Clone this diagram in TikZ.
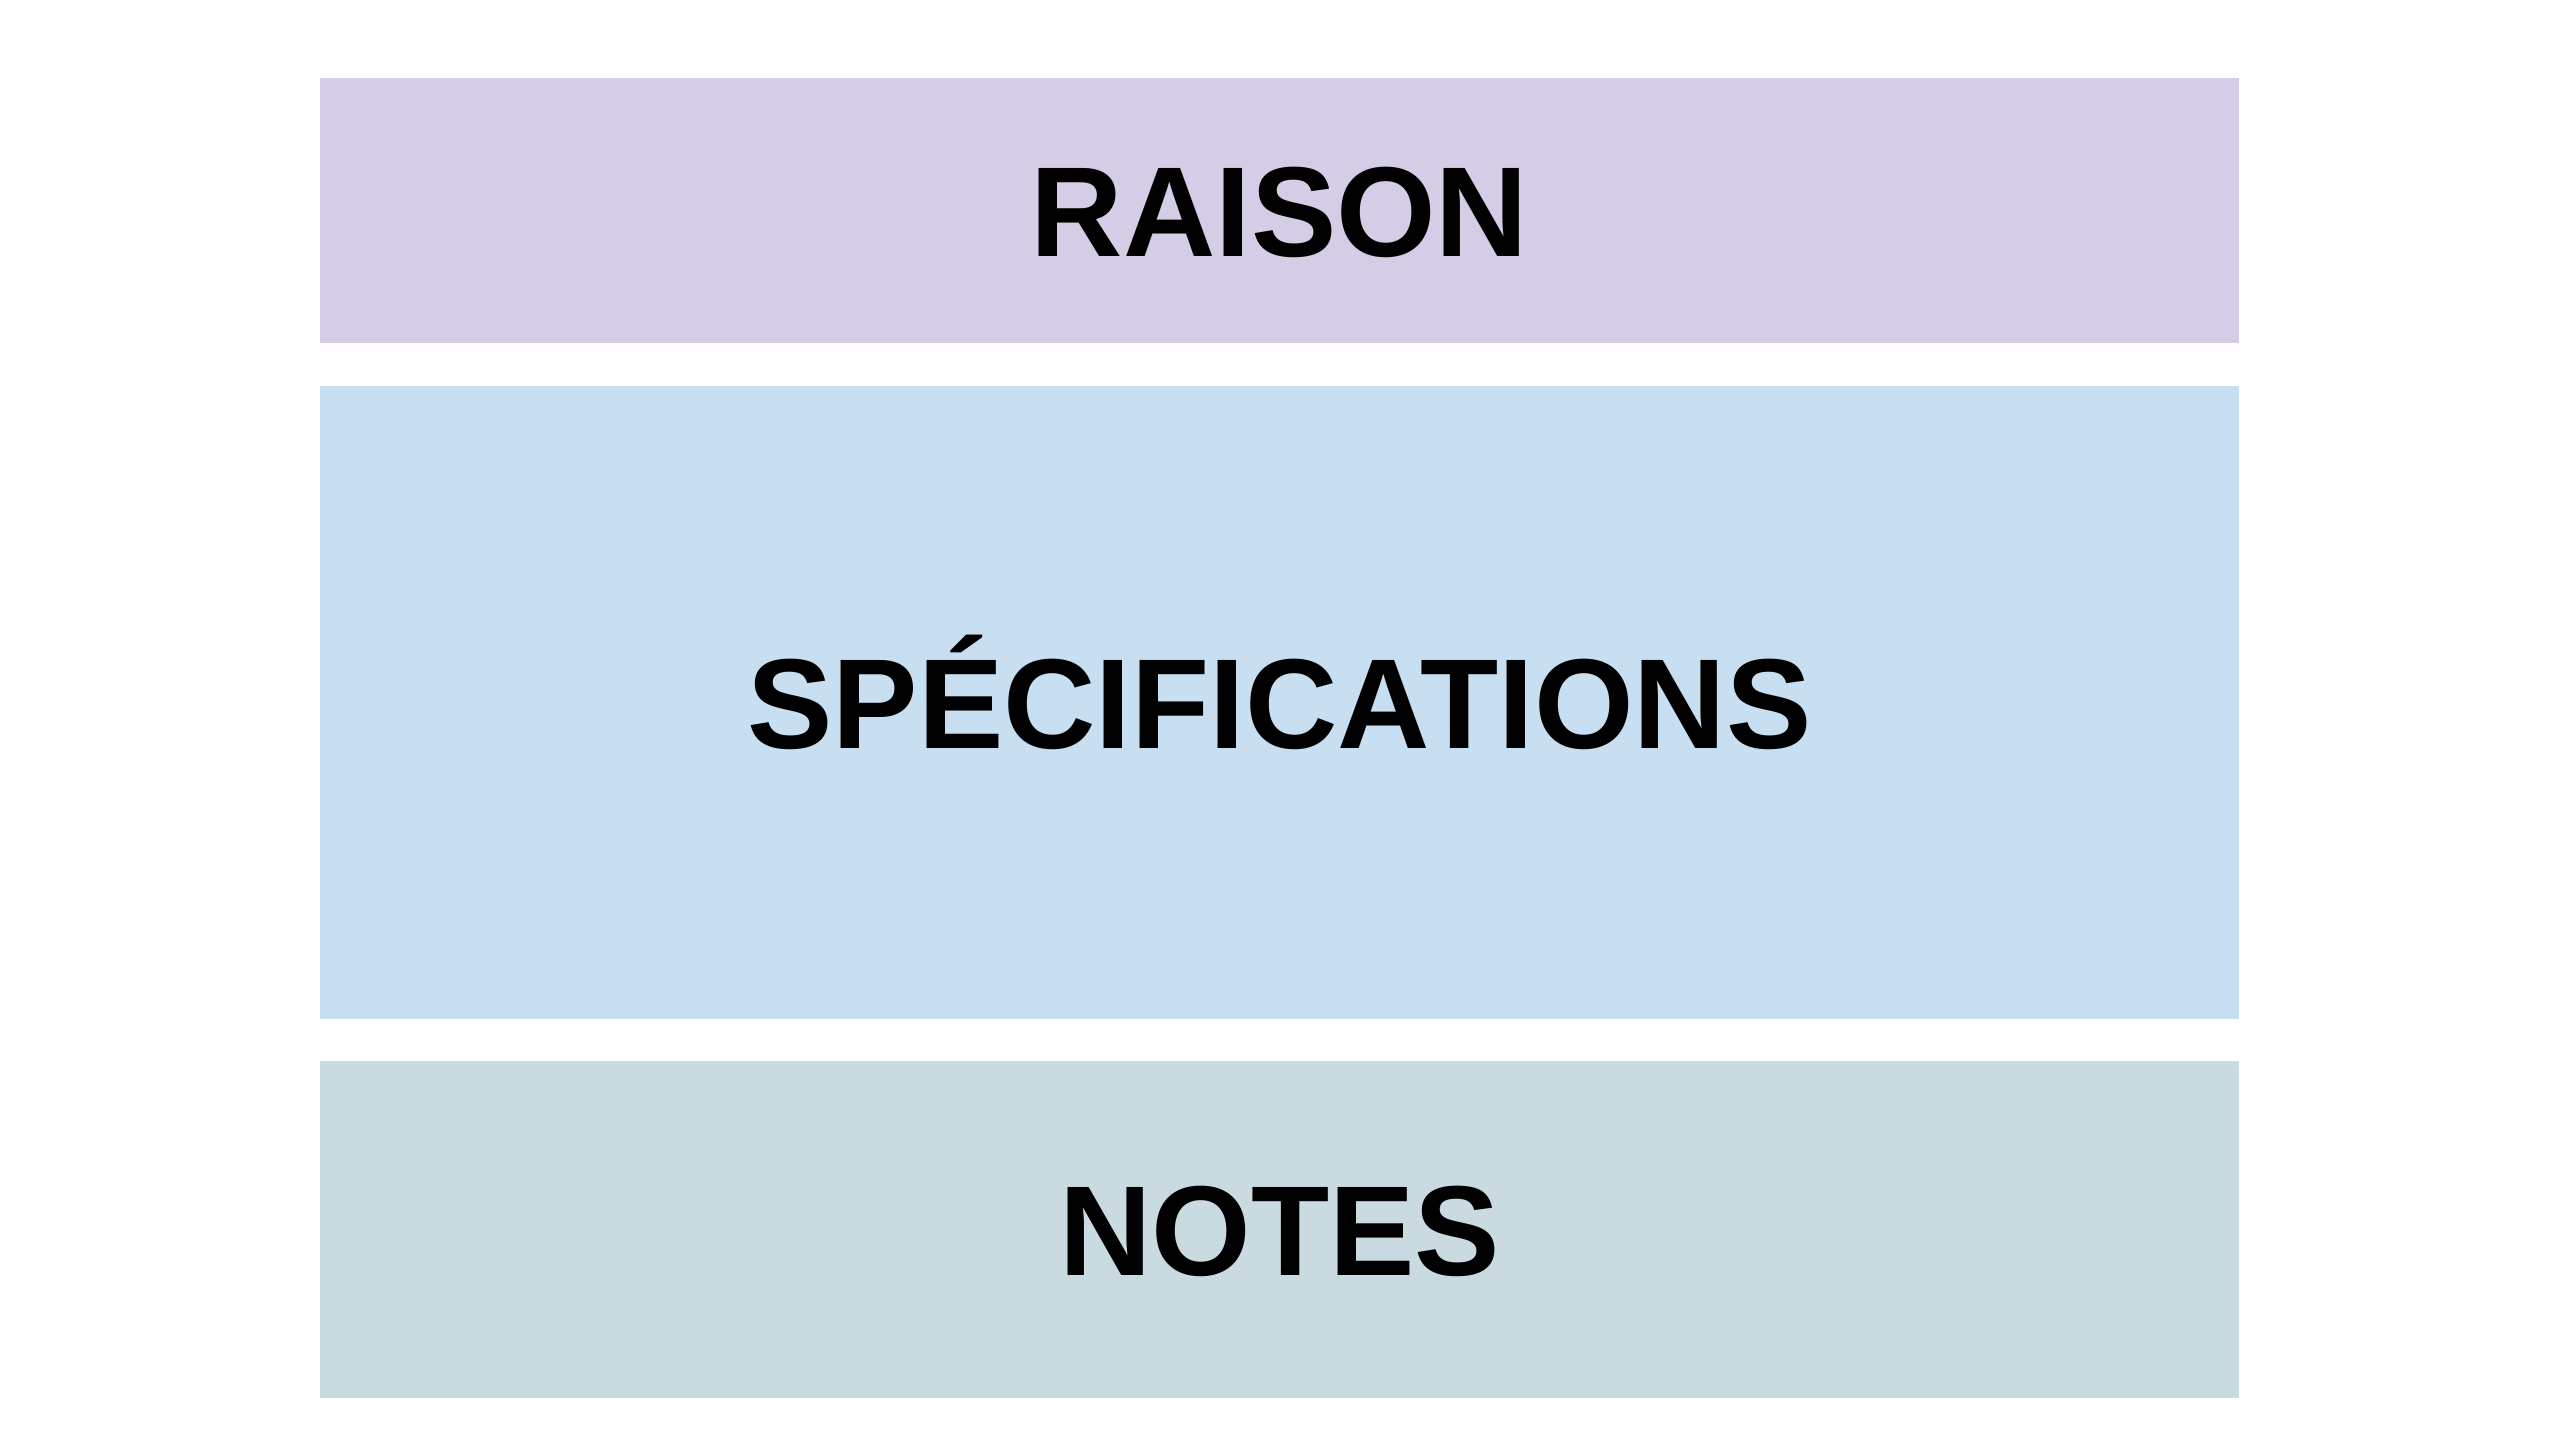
\documentclass[tikz,border=0pt]{standalone}
\usepackage{fontspec}
\setmainfont{Liberation Sans}
\definecolor{raisonfill}{HTML}{D5CCE6}
\definecolor{specfill}{HTML}{C8DEF1}
\definecolor{notesfill}{HTML}{C9DAE0}
\begin{document}
\begin{tikzpicture}[x=0.5pt,y=-0.5pt,
  band/.style={draw=none,inner sep=0pt,outer sep=0pt},
  title/.style={anchor=base,inner sep=0pt,font=\fontsize{64pt}{64pt}\selectfont\bfseries}]
  % page
  \fill[white] (0,0) rectangle (2560,1440);
  \useasboundingbox (0,0) rectangle (2560,1440);
  % bands
  \fill[raisonfill] (320,78) rectangle (2239,343);
  \fill[specfill]   (320,386) rectangle (2239,1019);
  \fill[notesfill]  (320,1061) rectangle (2239,1398);
  % headings, baseline half a cap height below each band's centre
  \node[title] (raison) at (1279.5,256.5) {RAISON};
  \node[title] (spec)   at (1279.5,748.5) {SPÉCIFICATIONS};
  \node[title] (notes)  at (1279.5,1275.5) {NOTES};
\end{tikzpicture}
\end{document}
